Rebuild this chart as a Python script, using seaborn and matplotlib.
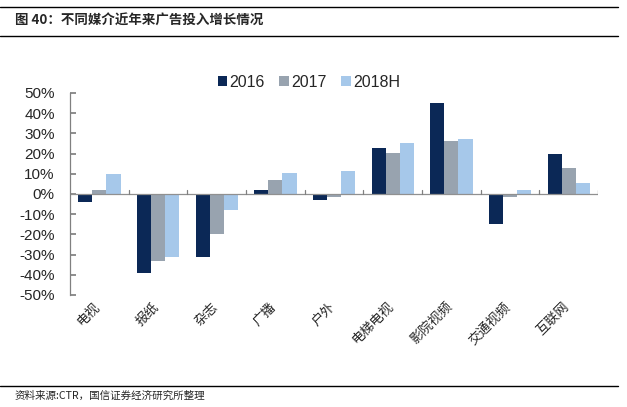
import matplotlib
matplotlib.use("Agg")
import matplotlib.pyplot as plt
import seaborn as sns
import pandas as pd
from matplotlib.ticker import FuncFormatter

categories = ["电视", "报纸", "杂志", "广播", "户外", "电梯电视", "影院视频", "交通视频", "互联网"]
series_names = ["2016", "2017", "2018H"]
v2016 = [-4, -39, -31, 2, -3, 23, 45, -15, 20]
v2017 = [2, -33, -20, 7, -1.5, 20.5, 26, -1.5, 13]
v2018h = [10, -31, -8, 10.5, 11.5, 25, 27, 2, 5.5]
colors = ["#0B2856", "#98A3AF", "#A6C8EA"]
yticks = [-50, -40, -30, -20, -10, 0, 10, 20, 30, 40, 50]

sns.set_theme(style="white")
plt.rcParams['font.family'] = ['Liberation Sans', 'Noto Sans CJK SC', 'DejaVu Sans']

rows = []
for name, vals in zip(series_names, [v2016, v2017, v2018h]):
    for c, v in zip(categories, vals):
        rows.append({"cat": c, "series": name, "val": v})
df = pd.DataFrame(rows)

fig = plt.figure(figsize=(6.27, 4.07), dpi=100)
ax = fig.add_axes([0.1117, 0.2752, 0.8423, 0.4963])
sns.barplot(data=df, x="cat", y="val", hue="series", order=categories,
            hue_order=series_names, palette=colors, width=0.72, ax=ax,
            saturation=1, errorbar=None, edgecolor="none")

ax.set_ylim(-50, 50)
ax.set_xlim(-0.5, len(categories) - 0.5)
ax.set_yticks(yticks)
ax.yaxis.set_major_formatter(FuncFormatter(lambda v, p: f"{int(v)}%"))
ax.tick_params(axis='y', direction='in', length=4, color='#808080', labelsize=11, pad=11, left=True)
ax.set_xlabel("")
ax.set_ylabel("")
for s in ["top", "right", "bottom"]:
    ax.spines[s].set_visible(False)
ax.spines["left"].set_color("#808080")
ax.spines["left"].set_linewidth(0.9)
ax.axhline(0, color="#909090", lw=0.9, zorder=1)

# category separator ticks on zero line
ax.set_xticks(range(len(categories)))
ax.set_xticklabels([])
ax.tick_params(axis='x', bottom=False, length=0)
for i in range(1, len(categories) + 1):
    ax.plot([i - 0.5, i - 0.5], [0, 2.2], color="#808080", lw=0.9, zorder=1)

for i, c in enumerate(categories):
    ax.text(i - 0.1, -52.5, c, rotation=45, ha='right', va='top', rotation_mode='anchor',
            fontsize=9.5, family=['Noto Sans CJK SC', 'DejaVu Sans'])

leg = ax.legend(loc="center", bbox_to_anchor=(0.452, 1.054), ncol=3, frameon=False,
                fontsize=11.5, handlelength=0.6, handleheight=0.6, handletextpad=0.15,
                columnspacing=0.9, borderaxespad=0)

# header / footer
fig.add_artist(plt.Line2D([0.0, 0.985], [1 - 7/407, 1 - 7/407], color="black", lw=1.0))
fig.add_artist(plt.Line2D([0.0, 0.985], [1 - 36/407, 1 - 36/407], color="black", lw=1.0))
fig.text(15/627, 1 - 21/407, "图 40：不同媒介近年来广告投入增长情况", fontsize=9.7, fontweight='bold',
         va='center', ha='left', family=['Noto Sans CJK SC', 'DejaVu Sans'])
fig.add_artist(plt.Line2D([0.0, 0.985], [1 - 386/407, 1 - 386/407], color="black", lw=1.0))
fig.text(15/627, 1 - 396/407, "资料来源:CTR，国信证券经济研究所整理", fontsize=7.6,
         va='center', ha='left', family=['Noto Sans CJK SC', 'DejaVu Sans'])

fig.savefig("out.png", dpi=100)
